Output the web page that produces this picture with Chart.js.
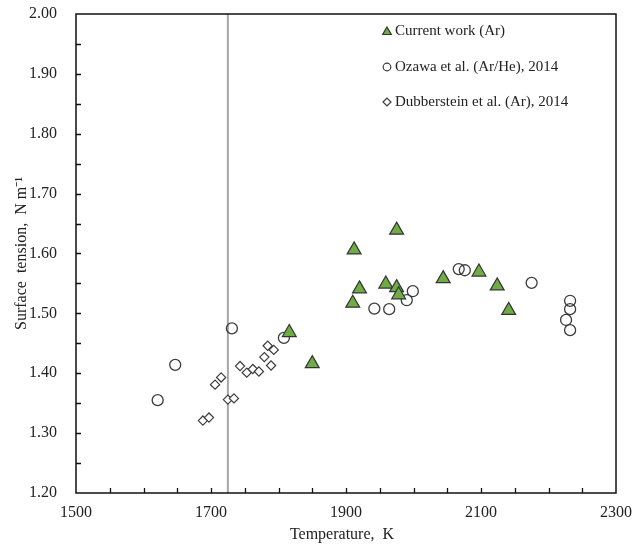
<!DOCTYPE html>
<html>
<head>
<meta charset="utf-8">
<script src="https://cdn.jsdelivr.net/npm/chart.js@4.4.0/dist/chart.umd.min.js"></script>
<style>
html,body{margin:0;padding:0;background:#fff;}
#wrap{width:633px;height:547px;}
</style>
</head>
<body>
<div id="wrap"><canvas id="c" width="633" height="547"></canvas></div>
<script>
// ---- Data ----
const currentLabel = 'Current work (Ar)';
const currentT     = [1816, 1850, 1912, 1920, 1910, 1975, 1959, 1975, 1978, 2044, 2097, 2124, 2141];
const currentSigma = [1.468, 1.416, 1.606, 1.541, 1.517, 1.639, 1.549, 1.543, 1.531, 1.558, 1.569, 1.546, 1.505];

const ozawaLabel = 'Ozawa et al. (Ar/He), 2014';
const ozawaT     = [1621, 1647, 1731, 1808, 1942, 1964, 1990, 1999, 2067, 2076, 2175, 2232, 2232, 2226, 2232];
const ozawaSigma = [1.355, 1.414, 1.475, 1.459, 1.508, 1.507, 1.522, 1.537, 1.574, 1.572, 1.551, 1.521, 1.507, 1.489, 1.472];

const dubbLabel = 'Dubberstein et al. (Ar), 2014';
const dubbT     = [1784, 1793, 1779, 1789, 1743, 1753, 1762, 1771, 1715, 1706, 1725, 1734, 1688, 1697];
const dubbSigma = [1.446, 1.439, 1.427, 1.413, 1.412, 1.401, 1.407, 1.403, 1.393, 1.381, 1.356, 1.358, 1.321, 1.326];

const meltingT = 1725;          // vertical reference line
const xMin = 1500, xMax = 2300, xLabelStep = 200, xTickStep = 50;
const yMin = 1.20, yMax = 2.00, yLabelStep = 0.10, yTickStep = 0.05;

const xTitle = 'Temperature,  K  ';
const yTitle = 'Surface  tension,  N m\u207B\u00B9';

const toPts = (xs, ys) => xs.map((x, i) => ({x: x, y: ys[i]}));

const FONT = '"Liberation Serif", "Times New Roman", serif';
const TXT = '#222';

const frameTicks = {
  id: 'frameTicks',
  afterDatasetsDraw(chart) {
    const {ctx, chartArea: a, scales} = chart;
    ctx.save();
    // inward ticks
    ctx.strokeStyle = '#111';
    ctx.lineWidth = 1.3;
    ctx.beginPath();
    scales.x.ticks.forEach(t => {
      const px = Math.round(scales.x.getPixelForValue(t.value)) + 0.5;
      if (t.value <= xMin || t.value >= xMax) return;
      ctx.moveTo(px, a.bottom);
      ctx.lineTo(px, a.bottom - 5);
    });
    scales.y.ticks.forEach(t => {
      const py = Math.round(scales.y.getPixelForValue(t.value)) + 0.5;
      if (t.value <= yMin + 1e-6 || t.value >= yMax - 1e-6) return;
      ctx.moveTo(a.left, py);
      ctx.lineTo(a.left + 5, py);
    });
    ctx.stroke();
    // frame
    ctx.lineWidth = 1.5;
    ctx.strokeStyle = '#111';
    ctx.strokeRect(a.left, a.top, a.right - a.left, a.bottom - a.top);

    // legend (drawn from dataset labels and styles)
    const rows = [31, 67, 102];
    const ds = chart.data.datasets.slice(0, 3);
    ctx.font = '15px ' + FONT;
    ctx.textBaseline = 'middle';
    ds.forEach((d, i) => {
      const y = rows[i];
      const x = 387;
      const r = d.pointStyle === 'triangle' ? 5 : (d.pointStyle === 'rectRot' ? 4 : 3.8);
      ctx.fillStyle = d.pointStyle === 'triangle' ? d.backgroundColor : '#ffffff';
      ctx.strokeStyle = d.borderColor;
      ctx.lineWidth = 1.2;
      Chart.helpers.drawPoint(ctx, {pointStyle: d.pointStyle, radius: r, rotation: 0, borderWidth: 1.2},
        x, y + (d.pointStyle === 'triangle' ? 1 : 0));
      ctx.fillStyle = TXT;
      ctx.fillText(d.label, 395, y);
    });
    ctx.restore();
  }
};

new Chart(document.getElementById('c'), {
  type: 'scatter',
  data: {
    datasets: [
      {
        label: currentLabel,
        data: toPts(currentT, currentSigma),
        pointStyle: 'triangle',
        pointRadius: 8,
        pointHoverRadius: 8,
        backgroundColor: '#6fac46',
        borderColor: '#333333',
        borderWidth: 1.2
      },
      {
        label: ozawaLabel,
        data: toPts(ozawaT, ozawaSigma),
        pointStyle: 'circle',
        pointRadius: 5.5,
        pointHoverRadius: 5.5,
        backgroundColor: 'rgba(255,255,255,0)',
        borderColor: '#3c3c3c',
        borderWidth: 1.3
      },
      {
        label: dubbLabel,
        data: toPts(dubbT, dubbSigma),
        pointStyle: 'rectRot',
        pointRadius: 4.6,
        pointHoverRadius: 4.6,
        backgroundColor: '#ffffff',
        borderColor: '#3c3c3c',
        borderWidth: 1.2
      },
      {
        label: 'melting',
        data: [{x: meltingT, y: yMin}, {x: meltingT, y: yMax}],
        showLine: true,
        pointRadius: 0,
        borderColor: '#a6a6a6',
        borderWidth: 2,
        fill: false
      }
    ]
  },
  options: {
    responsive: false,
    devicePixelRatio: 1,
    animation: false,
    events: [],
    layout: {padding: {top: 14, right: 17, left: 0, bottom: 0}},
    plugins: {legend: {display: false}, tooltip: {enabled: false}},
    scales: {
      x: {
        type: 'linear',
        min: xMin, max: xMax,
        afterFit(s) { s.height = 54; s.paddingLeft = 0; s.paddingRight = 0; },
        grid: {display: false, drawTicks: false},
        border: {display: false},
        ticks: {
          stepSize: xTickStep,
          autoSkip: false,
          maxRotation: 0,
          padding: 10,
          color: TXT,
          font: {family: FONT, size: 16},
          callback: v => (Math.abs((v - xMin) % xLabelStep) < 1e-6 ? String(v) : '')
        },
        title: {display: true, text: xTitle, color: TXT, font: {family: FONT, size: 16}, padding: {top: 0, bottom: 3}}
      },
      y: {
        type: 'linear',
        min: yMin, max: yMax,
        afterFit(s) { s.width = 76; s.paddingTop = 0; s.paddingBottom = 0; },
        grid: {display: false, drawTicks: false},
        border: {display: false},
        ticks: {
          stepSize: yTickStep,
          autoSkip: false,
          padding: 19,
          color: TXT,
          font: {family: FONT, size: 16},
          callback: v => {
            const k = Math.round(v / yTickStep);
            return k % 2 === 0 ? v.toFixed(2) : '';
          }
        },
        title: {display: true, text: yTitle, color: TXT, font: {family: FONT, size: 16}, padding: {top: 12, bottom: 0}}
      }
    }
  },
  plugins: [frameTicks]
});
</script>
</body>
</html>
